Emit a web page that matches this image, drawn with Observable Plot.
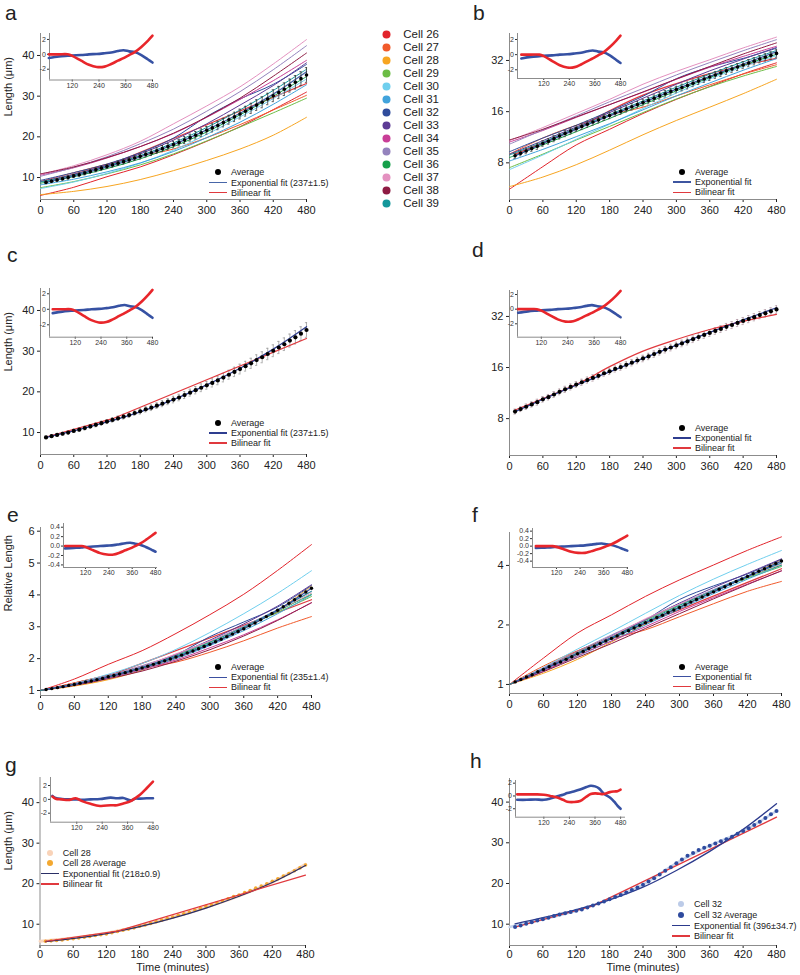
<!DOCTYPE html>
<html><head><meta charset="utf-8">
<script src="https://cdn.jsdelivr.net/npm/d3@7"></script>
<script src="https://cdn.jsdelivr.net/npm/@observablehq/plot@0.6"></script>
<style>
body{margin:0;background:#fff;}
#fig{position:relative;width:800px;height:975px;overflow:hidden;font-family:"Liberation Sans",Arial,Helvetica,sans-serif;color:#222;}
.plab{position:absolute;font-size:21px;line-height:21px;}
.lt{position:absolute;font-size:9px;line-height:12px;white-space:nowrap;color:#222;}
</style></head><body><div id="fig"></div>
<script>
// ---------------- DATA ----------------
const cellNames = ["Cell 26","Cell 27","Cell 28","Cell 29","Cell 30","Cell 31","Cell 32","Cell 33","Cell 34","Cell 35","Cell 36","Cell 37","Cell 38","Cell 39"];
const cellColors = ["#e2242b","#f15a2b","#f7a521","#6cbd45","#6fcfee","#41a3dc","#2f4c9c","#5d3b95","#c93e97","#9483bd","#16a04b","#e491c0","#8e1b43","#14979b"];
const cellTimes = [0, 60, 120, 180, 240, 300, 360, 420, 480];
// cell length (µm)
const cell26 = [5.6, 7.6, 10.2, 12.6, 15.6, 18.9, 22.5, 26.7, 31.0];
const cell27 = [9.0, 11.2, 13.3, 15.3, 17.0, 19.8, 23.0, 26.6, 30.2];
const cell28 = [5.8, 6.6, 7.8, 9.5, 11.7, 14.2, 17.0, 20.4, 24.8];
const cell29 = [7.5, 9.0, 10.9, 13.1, 15.8, 19.0, 22.4, 25.9, 29.5];
const cell30 = [7.3, 8.9, 11.0, 13.5, 16.7, 20.6, 24.9, 29.4, 34.2];
const cell31 = [8.2, 9.6, 11.4, 13.6, 16.4, 19.8, 23.6, 28.0, 32.8];
const cell32 = [9.3, 11.2, 13.3, 16.1, 19.7, 25.0, 29.3, 32.9, 37.8];
const cell33 = [9.0, 10.8, 13.0, 15.8, 19.2, 23.2, 27.8, 32.6, 38.2];
const cell34 = [10.6, 12.4, 14.8, 17.6, 20.8, 24.8, 29.2, 33.8, 38.8];
const cell35 = [10.3, 12.5, 15.1, 18.3, 21.9, 26.3, 31.1, 36.5, 42.4];
const cell36 = [8.6, 10.2, 12.2, 14.6, 17.6, 21.2, 25.4, 30.0, 34.8];
const cell37 = [10.8, 12.9, 15.6, 18.9, 23.2, 27.6, 32.3, 37.9, 43.9];
const cell38 = [10.9, 12.6, 14.9, 17.6, 20.9, 24.9, 29.5, 34.9, 40.6];
const cell39 = [8.9, 10.6, 12.8, 15.4, 18.5, 22.3, 26.6, 31.4, 36.6];
// relative length
const rel26 = [1, 1.36, 1.82, 2.25, 2.79, 3.38, 4.02, 4.77, 5.58];
const rel27 = [1, 1.24, 1.48, 1.70, 1.89, 2.20, 2.56, 2.96, 3.32];
const rel28 = [1, 1.14, 1.34, 1.64, 2.02, 2.45, 2.93, 3.52, 4.28];
const rel29 = [1, 1.20, 1.45, 1.75, 2.11, 2.53, 2.99, 3.45, 3.95];
const rel30 = [1, 1.22, 1.51, 1.85, 2.29, 2.82, 3.41, 4.05, 4.76];
const rel31 = [1, 1.17, 1.39, 1.66, 2.00, 2.41, 2.88, 3.41, 4.00];
const rel32 = [1, 1.20, 1.43, 1.73, 2.12, 2.69, 3.15, 3.62, 4.30];
const rel33 = [1, 1.20, 1.44, 1.76, 2.13, 2.58, 3.09, 3.65, 4.32];
const rel34 = [1, 1.17, 1.40, 1.66, 1.96, 2.34, 2.75, 3.22, 3.75];
const rel35 = [1, 1.21, 1.47, 1.78, 2.13, 2.55, 3.02, 3.54, 4.12];
const rel36 = [1, 1.19, 1.42, 1.70, 2.05, 2.47, 2.95, 3.49, 4.02];
const rel37 = [1, 1.19, 1.44, 1.75, 2.15, 2.55, 2.99, 3.51, 4.06];
const rel38 = [1, 1.16, 1.37, 1.61, 1.92, 2.28, 2.71, 3.20, 3.76];
const rel39 = [1, 1.19, 1.44, 1.73, 2.08, 2.51, 2.99, 3.53, 4.11];

const avgTimes = [10,20,30,40,50,60,70,80,90,100,110,120,130,140,150,160,170,180,190,200,210,220,230,240,250,260,270,280,290,300,310,320,330,340,350,360,370,380,390,400,410,420,430,440,450,460,470,480];
const avgLen = [8.8,9.1,9.4,9.7,10.0,10.4,10.7,11.1,11.5,11.9,12.3,12.7,13.1,13.5,13.9,14.3,14.8,15.2,15.7,16.1,16.6,17.1,17.6,18.1,18.6,19.2,19.8,20.4,21.0,21.6,22.2,22.8,23.5,24.2,24.9,25.6,26.3,27.0,27.8,28.5,29.3,30.1,30.9,31.7,32.6,33.4,34.3,35.2];
const avgErr = [0.3,0.3,0.35,0.35,0.4,0.4,0.4,0.45,0.45,0.5,0.5,0.5,0.55,0.55,0.6,0.6,0.6,0.65,0.65,0.7,0.7,0.75,0.75,0.8,0.8,0.85,0.85,0.9,0.95,0.95,1.0,1.05,1.05,1.1,1.15,1.2,1.2,1.25,1.3,1.35,1.4,1.45,1.5,1.55,1.6,1.65,1.7,1.8];
const avgRel = [1.03,1.06,1.09,1.12,1.16,1.19,1.23,1.27,1.30,1.34,1.38,1.43,1.47,1.52,1.56,1.61,1.66,1.71,1.76,1.82,1.87,1.93,1.99,2.05,2.11,2.18,2.24,2.31,2.38,2.45,2.53,2.61,2.69,2.77,2.85,2.94,3.03,3.12,3.22,3.32,3.42,3.52,3.63,3.74,3.85,3.97,4.09,4.21];
const cell28Avg = [5.8,5.9,6.0,6.1,6.3,6.4,6.6,6.8,7.0,7.2,7.4,7.6,7.9,8.2,8.5,8.8,9.1,9.5,9.8,10.2,10.6,11.0,11.4,11.8,12.2,12.6,13.0,13.5,13.9,14.4,14.8,15.3,15.8,16.3,16.8,17.2,17.8,18.3,18.9,19.4,20.0,20.6,21.2,21.9,22.5,23.2,23.9,24.6];
const cell32Avg = [9.3,9.7,10.1,10.5,10.9,11.2,11.6,12.0,12.4,12.7,13.0,13.3,13.6,14.1,14.6,15.1,15.6,16.1,16.7,17.2,17.8,18.4,19.0,19.7,20.5,21.3,22.2,23.1,24.0,25.0,25.9,26.8,27.5,28.2,28.8,29.3,29.8,30.4,30.9,31.5,32.2,32.9,33.6,34.4,35.2,36.1,37.0,37.8];

// fits
const fitTimes = [10, 60, 120, 180, 240, 300, 360, 420, 480];
const expLen = [8.8, 10.4, 12.6, 15.1, 18.1, 21.7, 25.8, 30.5, 36.0];
const expRel = [1.03, 1.19, 1.43, 1.71, 2.05, 2.45, 2.94, 3.52, 4.21];
const exp28 = [5.7, 6.5, 7.7, 9.4, 11.5, 14.0, 16.9, 20.3, 24.5];
const exp32 = [10.1, 11.6, 13.6, 16.0, 19.1, 23.2, 27.9, 33.3, 39.6];
const bilTimes = [10, 130, 480];
const bilLen = [8.9, 13.4, 33.1];
const bilRel = [1.03, 1.52, 3.85];
const bilLogTimes = [10, 130, 180, 240, 300, 360, 420, 480];
const bilLogLen = [9.0, 13.2, 16.2, 20.0, 23.4, 26.8, 29.9, 32.9];
const bil28Times = [10, 140, 480];
const bil28 = [5.8, 8.3, 22.1];
const bil32Times = [10, 150, 480];
const bil32 = [9.3, 14.5, 36.3];

// residuals (insets)
const resTimes = [15, 60, 100, 120, 160, 195, 230, 265, 295, 325, 350, 375, 400, 430, 460, 480];
const expRes = [-0.5, -0.3, -0.2, -0.15, -0.1, 0.0, 0.05, 0.15, 0.25, 0.45, 0.55, 0.4, 0.3, -0.1, -0.7, -1.1];
const bilRes = [0.0, 0.0, 0.0, -0.2, -0.85, -1.4, -1.7, -1.65, -1.3, -0.85, -0.5, -0.1, 0.3, 1.0, 1.85, 2.5];
const expResRel = [-0.05, -0.04, -0.03, -0.02, -0.01, 0.0, 0.01, 0.02, 0.04, 0.06, 0.07, 0.05, 0.03, -0.02, -0.08, -0.12];
const bilResRel = [0.0, 0.0, 0.0, -0.02, -0.09, -0.15, -0.18, -0.18, -0.14, -0.09, -0.05, 0.0, 0.05, 0.13, 0.22, 0.28];
const resTimes28 = [5, 20, 50, 80, 115, 145, 185, 230, 280, 310, 340, 375, 395, 420, 450, 480];
const expRes28 = [0.5, 0.2, 0.05, 0.0, 0.0, -0.05, 0.0, 0.05, 0.25, 0.15, 0.2, -0.15, 0.1, 0.1, 0.15, 0.15];
const bilRes28 = [0.4, 0.1, 0.0, -0.1, 0.15, -0.25, -0.65, -0.95, -0.85, -0.85, -0.6, -0.25, 0.15, 0.7, 1.6, 2.55];
const resTimes32 = [-5, 40, 80, 120, 150, 183, 210, 230, 260, 290, 320, 340, 360, 380, 400, 430, 450, 465, 480];
const expRes32 = [-0.6, -0.6, -0.55, -0.6, -0.4, -0.05, 0.2, 0.45, 0.7, 1.0, 1.4, 1.6, 1.5, 1.15, 0.4, -0.25, -0.9, -1.5, -2.0];
const bilRes32 = [0.25, 0.25, 0.25, 0.2, 0.0, -0.25, -0.6, -0.9, -0.95, -0.8, -0.1, 0.3, 0.4, 0.35, 0.3, 0.6, 0.7, 0.75, 1.0];

const xTicks = [0, 60, 120, 180, 240, 300, 360, 420, 480];
const insetTicks = [120, 240, 360, 480];

// ---------------- BUILD ----------------
const FONT = '"Liberation Sans", Arial, Helvetica, sans-serif';
const AXIS = "#8c8c8c";
const RED = "#e0393e";
const RESBLUE = "#3651a3", RESRED = "#e8262b";
const fig = document.getElementById("fig");
function place(node, left, top) {
  node.style.position = "absolute";
  node.style.left = left + "px";
  node.style.top = top + "px";
  fig.appendChild(node);
}

const cellLen = [cell26,cell27,cell28,cell29,cell30,cell31,cell32,cell33,cell34,cell35,cell36,cell37,cell38,cell39];
const cellRel = [rel26,rel27,rel28,rel29,rel30,rel31,rel32,rel33,rel34,rel35,rel36,rel37,rel38,rel39];
const cellRows = cellNames.flatMap((name, i) => cellTimes.map((t, j) => ({cell: name, t, len: cellLen[i][j], rel: cellRel[i][j]})));
const avgRows = avgTimes.map((t, i) => ({t, len: avgLen[i], err: avgErr[i], rel: avgRel[i], c28: cell28Avg[i], c32: cell32Avg[i]}));

const geo = {
  a: {left: 0,   x0: 40,   x1: 306, yT: 33,  yB: 199, ydom: [4.6, 45.4],   yticks: [10,20,30,40]},
  b: {left: 400, x0: 509,  x1: 776, yT: 33,  yB: 199, ydom: [4.87, 46.1],  yticks: [8,16,32], ytype: "log"},
  c: {left: 0,   x0: 40,   x1: 306, yT: 288, yB: 454, ydom: [4.6, 45.4],   yticks: [10,20,30,40]},
  d: {left: 400, x0: 509,  x1: 776, yT: 290, yB: 455, ydom: [4.85, 45.5],  yticks: [8,16,32], ytype: "log"},
  e: {left: 0,   x0: 40,   x1: 311, yT: 527, yB: 695, ydom: [0.843, 6.116], yticks: [1,2,3,4,5,6]},
  f: {left: 400, x0: 509,  x1: 781, yT: 532, yB: 693, ydom: [0.90, 5.87],  yticks: [1,2,4], ytype: "log"},
  g: {left: 0,   x0: 39.5, x1: 305, yT: 777, yB: 945, ydom: [4.75, 46.2],  yticks: [10,20,30,40], pad: 1.5},
  h: {left: 400, x0: 509,  x1: 776, yT: 778, yB: 945, ydom: [4.76, 45.8],  yticks: [10,20,30,40], pad: 1.5}
};

function mainPanel(key, marks) {
  const g = geo[key];
  const width = 400, top = g.yT - 12, height = g.yB - g.yT + 44;
  const svg = Plot.plot({
    width, height,
    marginLeft: g.x0 - g.left, marginRight: g.left + width - g.x1,
    marginTop: 12, marginBottom: 32,
    style: {fontFamily: FONT, fontSize: "11px", color: "#222", background: "transparent", overflow: "visible"},
    x: {domain: [0, 480], ticks: xTicks, tickSize: 3, tickPadding: g.pad ?? 4, label: null, tickFormat: d => String(d)},
    y: {type: g.ytype || "linear", domain: g.ydom, ticks: g.yticks, tickSize: 3, tickPadding: 3, label: null, tickFormat: d => String(d)},
    color: {domain: cellNames, range: cellColors},
    marks: [
      Plot.ruleX([0], {stroke: AXIS, strokeWidth: 1}),
      Plot.ruleY([g.ydom[0]], {stroke: AXIS, strokeWidth: 1}),
      ...marks
    ]
  });
  place(svg, g.left, top);
}

const insetGeo = {
  a: {x0: 49,   x1: 152, yT: 33,  yB: 79.5,  xdom: [18, 480],  ydom: [-3.45, 2.8],  yticks: [-2,0,2]},
  b: {x0: 517,  x1: 620, yT: 33,  yB: 78,    xdom: [-3, 480],  ydom: [-3.15, 2.79], yticks: [-2,0,2]},
  c: {x0: 49,   x1: 152, yT: 288, yB: 336.7, xdom: [0, 480],   ydom: [-3.6, 2.68],  yticks: [-2,0,2]},
  d: {x0: 517,  x1: 621, yT: 290, yB: 336.7, xdom: [12, 484],  ydom: [-3.83, 2.55], yticks: [-2,0,2]},
  e: {x0: 63,   x1: 157, yT: 523, yB: 567,   xdom: [7, 490],   ydom: [-0.455, 0.479], yticks: [-0.4,-0.2,0,0.2,0.4], fmt: d => d.toFixed(1)},
  f: {x0: 532,  x1: 627, yT: 528, yB: 567,   xdom: [-2, 481],  ydom: [-0.57, 0.47], yticks: [-0.4,-0.2,0,0.2,0.4], fmt: d => d.toFixed(1)},
  g: {x0: 49.5, x1: 152, yT: 777, yB: 821.7, xdom: [-4, 480],  ydom: [-3.3, 3.16],  yticks: [-2,0,2]},
  h: {x0: 515,  x1: 625, yT: 780, yB: 816.7, xdom: [-13, 503], ydom: [-3.32, 2.42], yticks: [-2,0,2]}
};

function insetPanel(key, tt, ev, bv) {
  const g = insetGeo[key];
  const width = g.x1 - g.x0 + 26, height = g.yB - g.yT + 18;
  const svg = Plot.plot({
    width, height, marginLeft: 18, marginRight: 8, marginTop: 5, marginBottom: 13,
    style: {fontFamily: FONT, fontSize: "7px", color: "#333", background: "transparent", overflow: "visible"},
    x: {domain: g.xdom, ticks: insetTicks, tickSize: 2, tickPadding: 1, label: null, tickFormat: d => String(d)},
    y: {domain: g.ydom, ticks: g.yticks, tickSize: 2, tickPadding: 1.5, label: null, tickFormat: g.fmt || (d => String(d))},
    marks: [
      Plot.ruleX([g.xdom[0]], {stroke: AXIS}),
      Plot.ruleY([g.ydom[0]], {stroke: AXIS}),
      Plot.line(ev, {x: tt, y: ev, stroke: RESBLUE, strokeWidth: 2.6, curve: "catmull-rom"}),
      Plot.line(bv, {x: tt, y: bv, stroke: RESRED, strokeWidth: 2.6, curve: "catmull-rom"})
    ]
  });
  place(svg, g.x0 - 18, g.yT - 5);
}

// common marks
const cellLinesLen = () => Plot.line(cellRows, {x: "t", y: "len", z: "cell", stroke: "cell", strokeWidth: 1, curve: "catmull-rom"});
const cellLinesRel = () => Plot.line(cellRows, {x: "t", y: "rel", z: "cell", stroke: "cell", strokeWidth: 1, curve: "catmull-rom"});
const errBars = (stroke) => [
  Plot.ruleX(avgRows, {x: "t", y1: d => d.len - d.err, y2: d => d.len + d.err, stroke, strokeWidth: 0.8}),
  Plot.ruleY(avgRows, {y: d => d.len + d.err, x1: d => d.t - 2, x2: d => d.t + 2, stroke, strokeWidth: 0.8}),
  Plot.ruleY(avgRows, {y: d => d.len - d.err, x1: d => d.t - 2, x2: d => d.t + 2, stroke, strokeWidth: 0.8})
];
const line = (xs, ys, stroke, w = 1.3, curve = "catmull-rom") => Plot.line(ys, {x: xs, y: ys, stroke, strokeWidth: w, curve});
const yLabel = (txt, dy = 0) => Plot.text([txt], {text: d => d, frameAnchor: "left", rotate: -90, dx: -32, dy, fontSize: 11});
const xLabel = (txt) => Plot.text([txt], {text: d => d, frameAnchor: "bottom", dy: 25.5, fontSize: 11});

// panel a
mainPanel("a", [
  line(bilTimes, bilLen, RED, 1.2, "linear"),
  cellLinesLen(),
  line(fitTimes, expLen, "#4866a8", 1.3),
  ...errBars("#333"),
  Plot.dot(avgRows, {x: "t", y: "len", r: 1.8, fill: "#000"}),
  yLabel("Length (μm)")
]);
// panel b
mainPanel("b", [
  line(bilLogTimes, bilLogLen, RED, 1.2),
  cellLinesLen(),
  line(fitTimes, expLen, "#3d55a0", 1.3),
  ...errBars("#444"),
  Plot.dot(avgRows, {x: "t", y: "len", r: 1.8, fill: "#000"})
]);
// panel c
mainPanel("c", [
  ...errBars("#9a9a9a"),
  line(bilTimes, bilLen, RED, 1.2, "linear"),
  line(fitTimes, expLen, "#2e3d8f", 1.3),
  Plot.dot(avgRows, {x: "t", y: "len", r: 2.1, fill: "#000"}),
  yLabel("Length (μm)")
]);
// panel d
mainPanel("d", [
  ...errBars("#b49aa6"),
  line(bilLogTimes, bilLogLen, RED, 1.2),
  line(fitTimes, expLen, "#2e3d8f", 1.3),
  Plot.dot(avgRows, {x: "t", y: "len", r: 2.1, fill: "#000"})
]);
// panel e
mainPanel("e", [
  line(bilTimes, bilRel, RED, 1.2, "linear"),
  cellLinesRel(),
  line(fitTimes, expRel, "#3b4fa0", 1.3),
  Plot.dot(avgRows, {x: "t", y: "rel", r: 1.7, fill: "#000"}),
  yLabel("Relative Length")
]);
// panel f
mainPanel("f", [
  line(bilTimes, bilRel, RED, 1.2, "linear"),
  cellLinesRel(),
  line(fitTimes, expRel, "#3b4fa0", 1.3),
  Plot.dot(avgRows, {x: "t", y: "rel", r: 1.7, fill: "#000"})
]);
// panel g
mainPanel("g", [
  line(cellTimes, cell28, "#f9d6bf", 3),
  Plot.dot(avgRows, {x: "t", y: "c28", r: 1.8, fill: "#f3a830"}),
  line(fitTimes, exp28, "#2a2f66", 1.3),
  line(bil28Times, bil28, RED, 1.2, "linear"),
  yLabel("Length (μm)", 9),
  xLabel("Time (minutes)")
]);
// panel h
mainPanel("h", [
  line(cellTimes, cell32, "#c5d3ec", 2.5),
  line(bil32Times, bil32, RED, 1.3, "linear"),
  line(fitTimes, exp32, "#2c3a8c", 1.3),
  Plot.dot(avgRows, {x: "t", y: "c32", r: 2, fill: "#2e4a9e"}),
  xLabel("Time (minutes)")
]);

// insets
insetPanel("a", resTimes, expRes, bilRes);
insetPanel("b", resTimes, expRes, bilRes);
insetPanel("c", resTimes, expRes, bilRes);
insetPanel("d", resTimes, expRes, bilRes);
insetPanel("e", resTimes, expResRel, bilResRel);
insetPanel("f", resTimes, expResRel, bilResRel);
insetPanel("g", resTimes28, expRes28, bilRes28);
insetPanel("h", resTimes32, expRes32, bilRes32);

// cell legend
const cellLegend = Plot.plot({
  width: 90, height: 200, margin: 0,
  style: {fontFamily: FONT, fontSize: "11.5px", color: "#222", background: "transparent", overflow: "visible"},
  y: {type: "point", domain: cellNames, range: [8.7, 191.3], axis: null},
  color: {domain: cellNames, range: cellColors},
  marks: [
    Plot.dot(cellNames, {y: d => d, fill: d => d, r: 4, frameAnchor: "left", dx: 11}),
    Plot.text(cellNames, {y: d => d, text: d => d, frameAnchor: "left", dx: 27.7, textAnchor: "start"})
  ]
});
place(cellLegend, 375, 18);

// panel letters
const letters = [["a",5,2],["b",473,2],["c",7,244],["d",472,239],["e",7,504],["f",472,504],["g",5,754],["h",470,750]];
letters.forEach(([t, x, y]) => {
  const d = document.createElement("div");
  d.className = "plab"; d.textContent = t;
  d.style.left = x + "px"; d.style.top = y + "px";
  fig.appendChild(d);
});

// in-panel legends
function addLegend(x, y, step, items) {
  items.forEach((it, i) => {
    const cy = y + i * step;
    const s = document.createElement("div");
    s.style.position = "absolute";
    if (it.dot) {
      s.style.cssText += `left:${x + 9 - 3}px;top:${cy - 3}px;width:6px;height:6px;border-radius:50%;background:${it.dot};`;
    } else {
      s.style.cssText += `left:${x}px;top:${cy - 0.75}px;width:18px;height:1.5px;background:${it.line};`;
    }
    fig.appendChild(s);
    const t = document.createElement("div");
    t.className = "lt"; t.textContent = it.text;
    t.style.left = (x + 22) + "px"; t.style.top = (cy - 6) + "px";
    fig.appendChild(t);
  });
}
const legA = (fitText, blue) => [{dot: "#000", text: "Average"}, {line: blue, text: fitText}, {line: RED, text: "Bilinear fit"}];
addLegend(209, 172.3, 10.2, legA("Exponential fit (237±1.5)", "#4866a8"));
addLegend(673, 172, 10.2, legA("Exponential fit", "#3d55a0"));
addLegend(209, 422.7, 10.2, legA("Exponential fit (237±1.5)", "#2e3d8f"));
addLegend(673, 427.7, 10.2, legA("Exponential fit", "#2e3d8f"));
addLegend(209, 667.3, 10.0, legA("Exponential fit (235±1.4)", "#3b4fa0"));
addLegend(673, 666.7, 10.0, legA("Exponential fit", "#3b4fa0"));
addLegend(40.7, 852.7, 10.5, [{dot: "#f9d3b8", text: "Cell 28"}, {dot: "#f3a830", text: "Cell 28 Average"}, {line: "#2a2f66", text: "Exponential fit (218±0.9)"}, {line: RED, text: "Bilinear fit"}]);
addLegend(672, 904.3, 10.6, [{dot: "#bccbe8", text: "Cell 32"}, {dot: "#2e4a9e", text: "Cell 32 Average"}, {line: "#2c3a8c", text: "Exponential fit (396±34.7)"}, {line: RED, text: "Bilinear fit"}]);
</script></body></html>
